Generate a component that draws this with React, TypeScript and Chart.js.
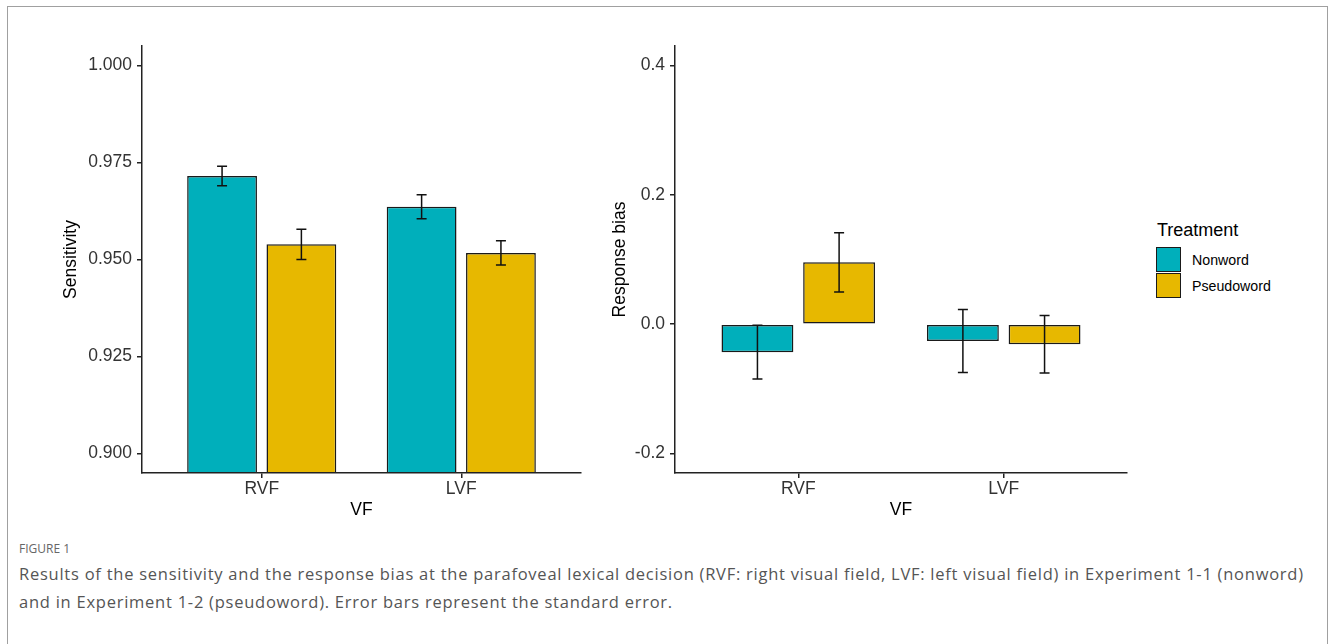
import React, { useEffect, useRef } from 'react';
import { Chart, registerables } from 'chart.js';

Chart.register(...registerables);

// ---------- data ----------
const categories = ['RVF', 'LVF'];
const treatments = ['Nonword', 'Pseudoword'];
const treatmentColors = ['#00AFBB', '#E7B800'];

const sensitivityNonword = [0.9715, 0.9636];
const sensitivityNonwordSE = [0.0025, 0.0031];
const sensitivityPseudoword = [0.9539, 0.9517];
const sensitivityPseudowordSE = [0.0039, 0.0031];

const biasNonword = [-0.0432, -0.0259];
const biasNonwordSE = [0.0415, 0.0487];
const biasPseudoword = [0.0957, -0.031];
const biasPseudowordSE = [0.0458, 0.0443];

const sensitivityTicks = [0.9, 0.925, 0.95, 0.975, 1.0];
const biasTicks = [-0.2, 0.0, 0.2, 0.4];

const captionLabel = 'FIGURE 1';
const captionLines = [
  'Results of the sensitivity and the response bias at the parafoveal lexical decision (RVF: right visual field, LVF: left visual field) in Experiment 1-1 (nonword)',
  'and in Experiment 1-2 (pseudoword). Error bars represent the standard error.',
];

const FONT = '"Liberation Sans", Arial, Helvetica, sans-serif';

const errorBarPlugin = {
  id: 'errorBars',
  afterDatasetsDraw(chart: any) {
    const ctx = chart.ctx;
    const yScale = chart.scales.y;
    ctx.save();
    ctx.strokeStyle = '#111';
    ctx.lineWidth = 1.5;
    chart.data.datasets.forEach((ds: any, di: number) => {
      const meta = chart.getDatasetMeta(di);
      meta.data.forEach((bar: any, i: number) => {
        const v = ds.data[i].y;
        const e = ds.errors[i];
        const x = bar.x;
        const top = yScale.getPixelForValue(v + e);
        const bot = yScale.getPixelForValue(v - e);
        ctx.beginPath();
        ctx.moveTo(x, top);
        ctx.lineTo(x, bot);
        ctx.moveTo(x - 5, top);
        ctx.lineTo(x + 5, top);
        ctx.moveTo(x - 5, bot);
        ctx.lineTo(x + 5, bot);
        ctx.stroke();
      });
    });
    ctx.restore();
  },
};

type PanelOpts = {
  a: number[];
  aSE: number[];
  b: number[];
  bSE: number[];
  yMin: number;
  yMax: number;
  yTicks: number[];
  decimals: number;
  yTitle: string;
  yWidth: number;
  yTitlePad: number;
  padRight: number;
};

function makeChart(canvas: HTMLCanvasElement, o: PanelOpts) {
  const series = [
    { v: o.a, se: o.aSE },
    { v: o.b, se: o.bSE },
  ];
  return new Chart(canvas, {
    type: 'bar',
    data: {
      datasets: series.map((s, k) => ({
        label: treatments[k],
        data: categories.map((_, i) => ({ x: i, y: s.v[i] })),
        errors: s.se,
        backgroundColor: treatmentColors[k],
        borderColor: '#1a1a1a',
        borderWidth: 1.5,
        borderSkipped: false,
        categoryPercentage: 0.795,
        barPercentage: 0.88,
      })) as any,
    },
    options: {
      responsive: false,
      animation: false,
      devicePixelRatio: 1,
      layout: { padding: { top: 26, right: o.padRight, bottom: 0, left: 0 } },
      plugins: { legend: { display: false }, tooltip: { enabled: false } },
      scales: {
        x: {
          type: 'linear',
          min: -0.6,
          max: 1.6,
          offset: false,
          afterBuildTicks: (s: any) => {
            s.ticks = categories.map((_, i) => ({ value: i }));
          },
          afterFit: (s: any) => {
            s.height = 48;
          },
          ticks: {
            callback: (v: any) => categories[Math.round(Number(v))],
            font: { size: 17.5, family: FONT },
            color: '#333',
            padding: 1,
            autoSkip: false,
            maxRotation: 0,
          },
          grid: {
            offset: false,
            drawOnChartArea: false,
            drawTicks: true,
            tickLength: 5,
            color: '#222',
            lineWidth: 1.5,
          },
          border: { display: true, color: '#222', width: 1.5, z: 1 },
          title: {
            display: true,
            text: 'VF',
            font: { size: 17.5, family: FONT },
            color: '#000',
            padding: 0,
          },
        },
        y: {
          type: 'linear',
          min: o.yMin,
          max: o.yMax,
          afterBuildTicks: (s: any) => {
            s.ticks = o.yTicks.map((v) => ({ value: v }));
          },
          afterFit: (s: any) => {
            s.width = o.yWidth;
          },
          ticks: {
            callback: (v: any) => Number(v).toFixed(o.decimals),
            font: { size: 17.5, family: FONT },
            color: '#333',
            padding: 5,
          },
          grid: {
            drawOnChartArea: false,
            drawTicks: true,
            tickLength: 5,
            color: '#222',
            lineWidth: 1.5,
          },
          border: { display: true, color: '#222', width: 1.5, z: 1 },
          title: {
            display: true,
            text: o.yTitle,
            font: { size: 17.5, family: FONT },
            color: '#000',
            padding: { top: o.yTitlePad, bottom: 0 },
          },
        },
      } as any,
    },
    plugins: [errorBarPlugin],
  });
}

export default function App() {
  const leftRef = useRef<HTMLCanvasElement>(null);
  const rightRef = useRef<HTMLCanvasElement>(null);

  useEffect(() => {
    const c1 = makeChart(leftRef.current!, {
      a: sensitivityNonword,
      aSE: sensitivityNonwordSE,
      b: sensitivityPseudoword,
      bSE: sensitivityPseudowordSE,
      yMin: 0.895,
      yMax: 1.005,
      yTicks: sensitivityTicks,
      decimals: 3,
      yTitle: 'Sensitivity',
      yWidth: 102,
      yTitlePad: 20.5,
      padRight: 19,
    });
    const c2 = makeChart(rightRef.current!, {
      a: biasNonword,
      aSE: biasNonwordSE,
      b: biasPseudoword,
      bSE: biasPseudowordSE,
      yMin: -0.23,
      yMax: 0.43,
      yTicks: biasTicks,
      decimals: 1,
      yTitle: 'Response bias',
      yWidth: 75,
      yTitlePad: 9.5,
      padRight: 13,
    });
    return () => {
      c1.destroy();
      c2.destroy();
    };
  }, []);

  return (
    <div
      style={{
        position: 'absolute',
        left: 0,
        top: 0,
        width: 1331,
        height: 644,
        overflow: 'hidden',
        background: '#fff',
        fontFamily: FONT,
      }}
    >
      <div
        style={{
          position: 'absolute',
          left: 7,
          top: 6,
          width: 1321,
          height: 700,
          border: '1.5px solid #a0a0a0',
          boxSizing: 'border-box',
        }}
      />
      <canvas
        ref={leftRef}
        width={560}
        height={501}
        style={{ position: 'absolute', left: 40, top: 20, width: 560, height: 501 }}
      />
      <canvas
        ref={rightRef}
        width={540}
        height={501}
        style={{ position: 'absolute', left: 600, top: 20, width: 540, height: 501 }}
      />
      {/* legend */}
      <div
        style={{
          position: 'absolute',
          left: 1157,
          top: 219,
          fontSize: 18,
          lineHeight: '22px',
          color: '#000',
          whiteSpace: 'nowrap',
        }}
      >
        Treatment
      </div>
      {treatments.map((t, i) => (
        <React.Fragment key={t}>
          <div
            style={{
              position: 'absolute',
              left: 1156,
              top: 247 + i * 25.5,
              width: 25,
              height: 25,
              background: treatmentColors[i],
              border: '1.5px solid #1a1a1a',
              boxSizing: 'border-box',
            }}
          />
          <div
            style={{
              position: 'absolute',
              left: 1192,
              top: 250 + i * 25.5,
              fontSize: 14.2,
              lineHeight: '20px',
              color: '#000',
              whiteSpace: 'nowrap',
            }}
          >
            {t}
          </div>
        </React.Fragment>
      ))}
      {/* caption */}
      <div
        style={{
          position: 'absolute',
          left: 19,
          top: 541,
          fontFamily: '"Open Sans", sans-serif',
          fontSize: 12,
          lineHeight: '16px',
          color: '#666',
          whiteSpace: 'nowrap',
        }}
      >
        {captionLabel}
      </div>
      {captionLines.map((line, i) => (
        <div
          key={i}
          style={{
            position: 'absolute',
            left: 19,
            top: 560 + i * 28,
            fontFamily: '"Open Sans", sans-serif',
            fontSize: 16.5,
            letterSpacing: '0.75px',
            lineHeight: '28px',
            color: '#555',
            whiteSpace: 'nowrap',
          }}
        >
          {line}
        </div>
      ))}
    </div>
  );
}
